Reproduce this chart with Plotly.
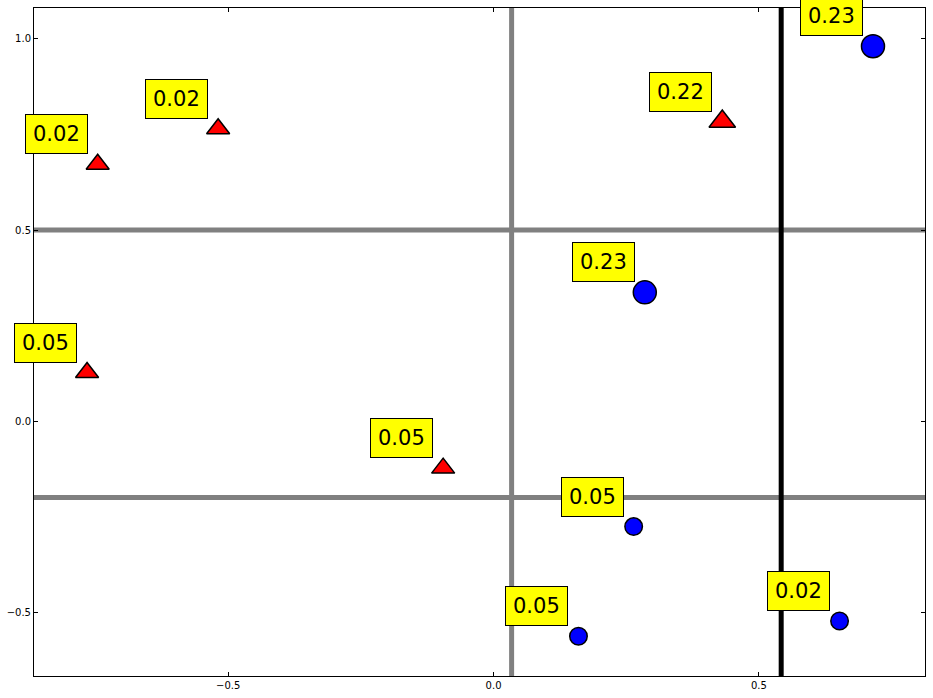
import plotly.graph_objects as go

# Red triangles
tri_x = [-0.746, -0.519, -0.766, -0.095, 0.431]
tri_y = [0.672, 0.765, 0.127, -0.123, 0.784]
tri_labels = ["0.02", "0.02", "0.05", "0.05", "0.22"]
tri_sizes = [20, 20, 20, 20, 23]

# Blue circles
cir_x = [0.715, 0.285, 0.264, 0.160, 0.652]
cir_y = [0.981, 0.337, -0.276, -0.563, -0.523]
cir_labels = ["0.23", "0.23", "0.05", "0.05", "0.02"]
cir_sizes = [23, 23, 17.5, 17.5, 17.5]

# Reference lines
gray_hlines = [0.5, -0.2]
gray_vline = 0.034
black_vline = 0.542

x_range = [-0.866, 0.813]
y_range = [-0.667, 1.081]
tick_vals_x = [-0.5, 0.0, 0.5]
tick_vals_y = [-0.5, 0.0, 0.5, 1.0]

FONT = "DejaVu Sans"

fig = go.Figure()

fig.add_trace(go.Scatter(
    x=tri_x, y=tri_y, mode="markers",
    marker=dict(symbol="triangle-up", size=tri_sizes, color="red", opacity=1,
                line=dict(color="black", width=1.5)),
    showlegend=False, cliponaxis=False))

fig.add_trace(go.Scatter(
    x=cir_x, y=cir_y, mode="markers",
    marker=dict(symbol="circle", size=cir_sizes, color="blue", opacity=1,
                line=dict(color="black", width=1.5)),
    showlegend=False, cliponaxis=False))

shapes = []
for yv in gray_hlines:
    shapes.append(dict(type="line", xref="paper", x0=0, x1=1, yref="y", y0=yv, y1=yv,
                       line=dict(color="gray", width=5), layer="below"))
shapes.append(dict(type="line", xref="x", x0=gray_vline, x1=gray_vline, yref="paper", y0=0, y1=1,
                   line=dict(color="gray", width=5), layer="below"))
shapes.append(dict(type="line", xref="x", x0=black_vline, x1=black_vline, yref="paper", y0=0, y1=1,
                   line=dict(color="black", width=5), layer="below"))

annotations = []
for xs, ys, labs in [(tri_x, tri_y, tri_labels), (cir_x, cir_y, cir_labels)]:
    for xv, yv, lab in zip(xs, ys, labs):
        annotations.append(dict(
            x=xv, y=yv, xref="x", yref="y", text=lab, showarrow=False,
            xanchor="right", yanchor="bottom", xshift=-10, yshift=10,
            bgcolor="yellow", bordercolor="black", borderwidth=1, borderpad=7,
            font=dict(family=FONT, size=21, color="black")))

axis_common = dict(
    showgrid=False, zeroline=False, showline=True, linecolor="black", linewidth=1,
    mirror="ticks", ticks="inside", ticklen=4, tickwidth=1, tickcolor="black",
    tickformat=".1f", tickfont=dict(family=FONT, size=10, color="black"))

fig.update_layout(
    width=933, height=698,
    margin=dict(l=34, r=8, t=7, b=21),
    paper_bgcolor="white", plot_bgcolor="white",
    xaxis=dict(range=x_range, tickvals=tick_vals_x, **axis_common),
    yaxis=dict(range=y_range, tickvals=tick_vals_y, **axis_common),
    shapes=shapes, annotations=annotations,
    font=dict(family=FONT),
)

fig.write_html("out.html")
